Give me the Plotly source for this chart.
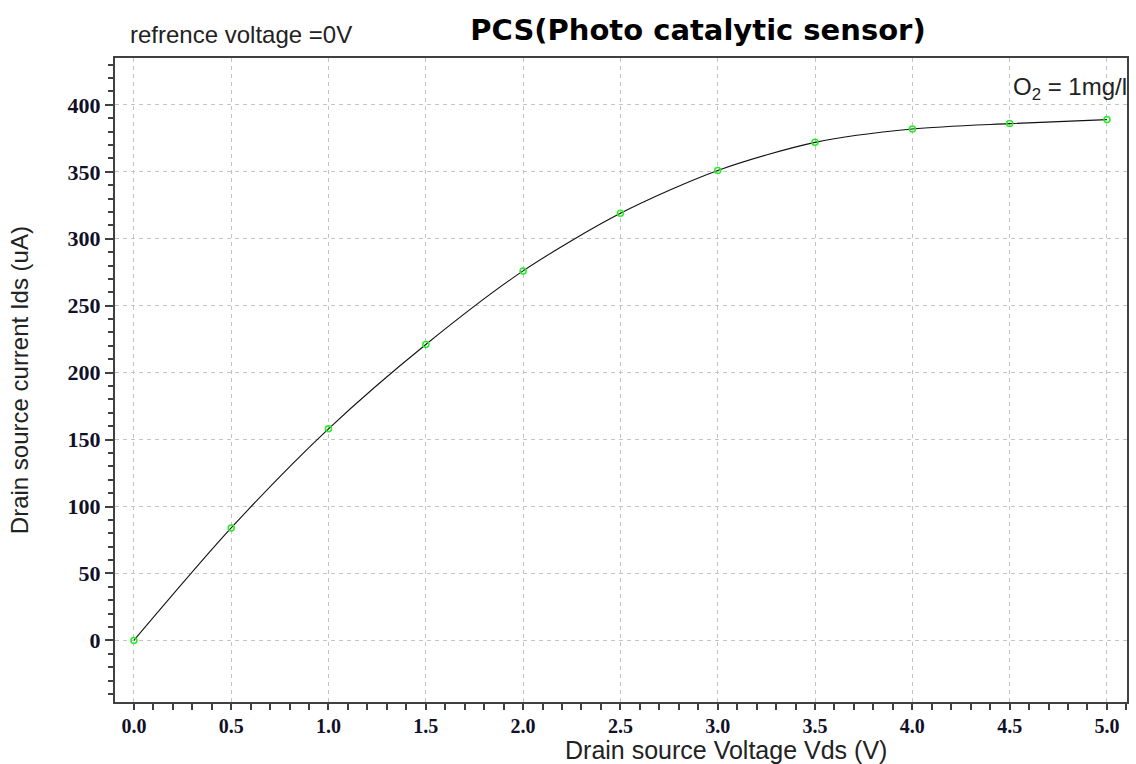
import plotly.graph_objects as go

# Drain source voltage (V) and current (uA)
vds = [0.0, 0.5, 1.0, 1.5, 2.0, 2.5, 3.0, 3.5, 4.0, 4.5, 5.0]
ids = [0, 84, 158, 221, 276, 319, 351, 372, 382, 386, 389]

x_ticks = [0.0, 0.5, 1.0, 1.5, 2.0, 2.5, 3.0, 3.5, 4.0, 4.5, 5.0]
y_ticks = [0, 50, 100, 150, 200, 250, 300, 350, 400]

COLORS = {
    "line": "#111111",
    "marker": "#22ee22",
    "axis": "#404040",
    "grid": "#c4c4c4",
    "tick": "#101028",
    "text": "#222222",
}

W, H = 1136, 764
L, R, T, B = 115, 7, 58, 62
PW, PH = W - L - R, H - T - B

SERIF = "Liberation Serif, Times New Roman, serif"

fig = go.Figure()

fig.add_trace(
    go.Scatter(
        x=vds,
        y=ids,
        mode="lines+markers",
        line=dict(color=COLORS["line"], width=1.1, shape="spline", smoothing=0.8),
        marker=dict(symbol="circle-open", size=6, color=COLORS["marker"],
                    line=dict(width=1.5, color=COLORS["marker"])),
        showlegend=False,
    )
)

fig.update_layout(
    width=W,
    height=H,
    paper_bgcolor="white",
    plot_bgcolor="white",
    margin=dict(l=L, r=R, t=T, b=B),
    font=dict(family="Liberation Sans, Arial, sans-serif", color=COLORS["text"]),
    title=dict(
        text="<b>PCS(Photo catalytic sensor)</b>",
        x=698 / W,
        xanchor="center",
        y=1 - 30 / H,
        yanchor="middle",
        font=dict(family="DejaVu Sans, sans-serif", size=29, color="#000000"),
    ),
    annotations=[
        dict(text="refrence voltage =0V", xref="paper", yref="paper",
             x=(128 - L) / PW, y=1 + (T - 35) / PH, xanchor="left",
             yanchor="middle", showarrow=False,
             font=dict(size=24, color=COLORS["text"])),
        dict(text="O<sub>2</sub> = 1mg/l", xref="paper", yref="paper",
             x=(1013 - L) / PW, y=1 - (88 - T) / PH, xanchor="left",
             yanchor="middle", showarrow=False,
             font=dict(size=24, color=COLORS["text"])),
        dict(text="Drain source Voltage Vds (V)", xref="paper", yref="paper",
             x=(727 - L) / PW, y=-(750 - (H - B)) / PH, xanchor="center",
             yanchor="middle", showarrow=False,
             font=dict(size=25, color=COLORS["text"])),
        dict(text="Drain source current Ids (uA)", xref="paper", yref="paper",
             x=-(L - 19) / PW, y=0.5, xanchor="center", yanchor="middle",
             textangle=-90, showarrow=False,
             font=dict(size=24, color=COLORS["text"])),
    ],
)

fig.update_xaxes(
    range=[-0.097, 5.103],
    tickvals=x_ticks,
    ticktext=[f"{v:.1f}" for v in x_ticks],
    tickfont=dict(family=SERIF, size=20, color=COLORS["tick"], weight="bold"),
    showgrid=True,
    gridcolor=COLORS["grid"],
    griddash="4px,4px",
    gridwidth=1,
    zeroline=False,
    showline=True,
    linecolor=COLORS["axis"],
    linewidth=2,
    mirror=True,
    ticks="outside",
    ticklen=5,
    tickwidth=1.5,
    tickcolor=COLORS["axis"],
    minor=dict(dtick=0.1, tick0=0, ticks="outside", ticklen=6,
               tickcolor=COLORS["axis"], tickwidth=1.5, showgrid=False),
)

fig.update_yaxes(
    range=[-46, 435],
    tickvals=y_ticks,
    tickfont=dict(family=SERIF, size=22, color=COLORS["tick"], weight="bold"),
    showgrid=True,
    gridcolor=COLORS["grid"],
    griddash="4px,4px",
    gridwidth=1,
    zeroline=False,
    showline=True,
    linecolor=COLORS["axis"],
    linewidth=2,
    mirror=True,
    ticks="outside",
    ticklen=8,
    tickwidth=1.5,
    tickcolor=COLORS["axis"],
    minor=dict(dtick=10, tick0=0, ticks="outside", ticklen=5,
               tickcolor=COLORS["axis"], tickwidth=1.5, showgrid=False),
)

# drop the page's default body margin so the figure fills the window
fig.write_html("out.html", config={"displayModeBar": False},
               post_script="document.body.style.margin='0';")
